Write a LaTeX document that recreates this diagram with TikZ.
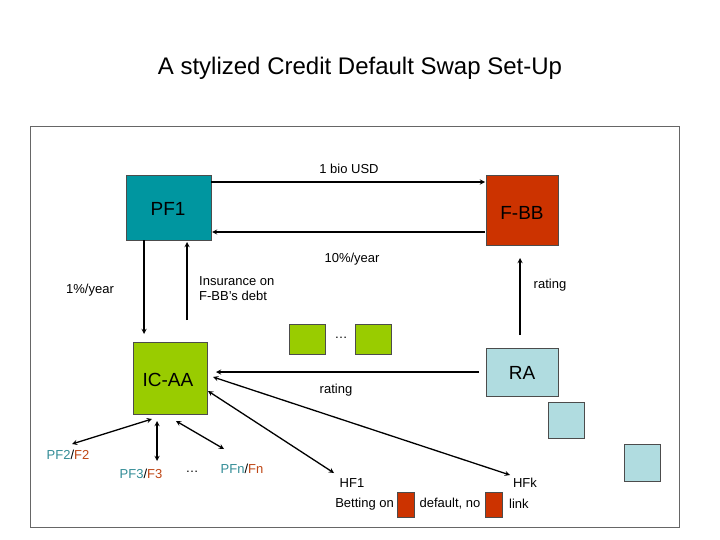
\documentclass[tikz,border=0pt]{standalone}
\usepackage{fontspec}
\setmainfont{Liberation Sans}
\usetikzlibrary{positioning}
\definecolor{teal1}{RGB}{0,150,160}
\definecolor{rust}{RGB}{204,51,0}
\definecolor{lime}{RGB}{153,204,0}
\definecolor{pale}{RGB}{176,220,224}
\definecolor{pftxt}{RGB}{50,140,150}
\definecolor{ftxt}{RGB}{190,70,20}
\begin{document}
\begin{tikzpicture}[
		x=1pt, y=-1pt,
		box/.style={draw=black!70, anchor=north west, inner sep=0pt},
		lbl/.style={font=\fontsize{13}{15}\selectfont, inner sep=1pt},
		big/.style={font=\fontsize{19}{21}\selectfont},
		arr/.style={->, >=stealth, line width=1.3pt},
		dbl/.style={<->, >=stealth, line width=1.3pt}
	]
\useasboundingbox (0,0) rectangle (720,540);

\node (title) at (360,68) {\fontsize{24}{28}\selectfont A stylized Credit Default Swap Set-Up};
\draw[black!60] (30,126) rectangle (679,527);

% boxes
\node (pf1) [box, fill=teal1, minimum width=85, minimum height=65] at (126,175) {};
\node [big] at (168,209) {PF1};
\node (fbb) [box, fill=rust, minimum width=72, minimum height=70] at (486,175) {};
\node [big] at (522,213) {F-BB};
\node (icaa) [box, fill=lime, minimum width=74, minimum height=72] at (133,342) {};
\node [big] at (168,380) {IC-AA};
\node (ra) [box, fill=pale, minimum width=72, minimum height=48] at (486,348) {};
\node [big] at (522,373) {RA};
\node (g1) [box, fill=lime, minimum width=36, minimum height=30] at (289,324) {};
\node (g2) [box, fill=lime, minimum width=36, minimum height=30] at (355,324) {};
\node (b1) [box, fill=pale, minimum width=36, minimum height=36] at (548,402) {};
\node (b2) [box, fill=pale, minimum width=36, minimum height=37] at (624,444) {};
\node (r1) [box, fill=rust, minimum width=17, minimum height=25] at (397,492) {};
\node (r2) [box, fill=rust, minimum width=17, minimum height=25] at (485,492) {};

% labels
\node [lbl] at (349,169) {1 bio USD};
\node [lbl] at (352,259) {10\%/year};
\node [lbl] at (90,290) {1\%/year};
\node [lbl, align=left, anchor=north west] at (198,275) {Insurance on\\F-BB’s debt};
\node [lbl] at (550,285) {rating};
\node [lbl] at (341,338) {…};
\node [lbl] at (336,390) {rating};
\node (pf2) [lbl] at (68,455) {\textcolor{pftxt}{PF2}/\textcolor{ftxt}{F2}};
\node (pf3) [lbl] at (141,474) {\textcolor{pftxt}{PF3}/\textcolor{ftxt}{F3}};
\node [lbl] at (192,472) {…};
\node (pfn) [lbl] at (242,469) {\textcolor{pftxt}{PFn}/\textcolor{ftxt}{Fn}};
\node (hf1) [lbl] at (352,483) {HF1};
\node (hfk) [lbl] at (525,483) {HFk};
\node [lbl, anchor=east] at (395,504) {Betting on};
\node [lbl] at (450,504) {default, no};
\node [lbl, anchor=west] at (508,504) {link};

% connectors
\coordinate (a1) at (211,182); \coordinate (a2) at (485,182);
\coordinate (a3) at (485,232); \coordinate (a4) at (212,232);
\draw[arr] (a1) -- (a2);
\draw[arr] (a3) -- (a4);
\draw[arr] (144,240) -- (144,334);
\draw[arr] (187,320) -- (187,242);
\draw[arr] (520,335) -- (520,258);
\draw[arr] (479,372) -- (216,372);
\draw[dbl] (152,419) -- (72,444);
\draw[dbl] (157,421) -- (157,461);
\draw[dbl] (176,421) -- (224,449);
\draw[dbl] (208,391) -- (334,473);
\draw[dbl] (213,377) -- (510,475);
\end{tikzpicture}
\end{document}
